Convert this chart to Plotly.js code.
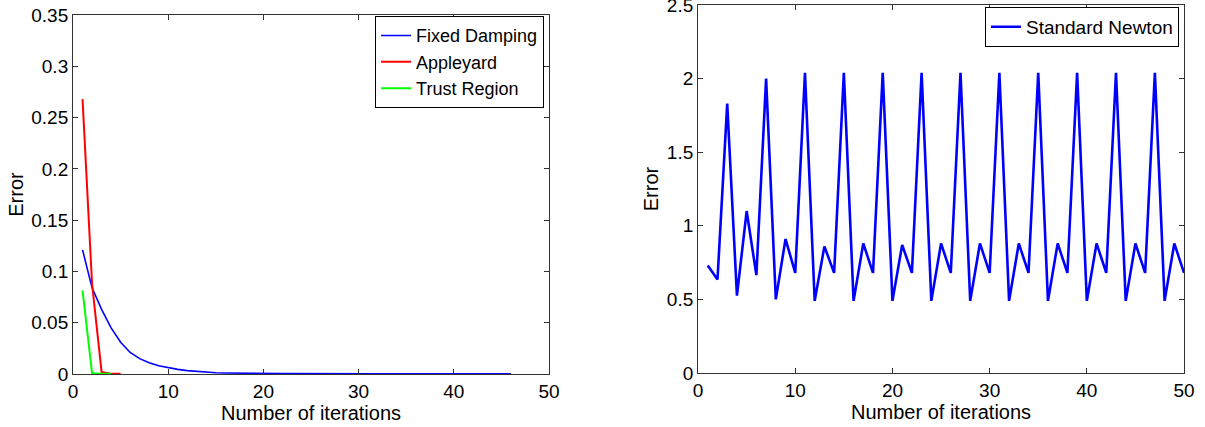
<!DOCTYPE html>
<html>
<head>
<meta charset="utf-8">
<script src="https://cdn.plot.ly/plotly-3.0.1.min.js"></script>
<style>html,body{margin:0;padding:0;background:#fff;}#plot{width:1205px;height:427px;}</style>
</head>
<body>
<div id="plot"></div>
<script>
// Left panel data
const fixedX = [1,2,3,4,5,6,7,8,9,10,11,12,13,14,15,16,17,18,19,20,21,22,23,24,25,26,27,28,29,30,31,32,33,34,35,36,37,38,39,40,41,42,43,44,45,46];
const fixedY = [0.121,0.084,0.063,0.045,0.031,0.021,0.015,0.011,0.008,0.006,0.0045,0.0033,0.0025,0.0018,0.0013,0.001,0.0008,0.0007,0.0006,0.0005,0.0005,0.0004,0.0004,0.0003,0.0003,0.0003,0.0003,0.0002,0.0002,0.0002,0.0002,0.0002,0.0002,0.0001,0.0001,0.0001,0.0001,0.0001,0.0001,0.0001,0.0001,0.0001,0.0001,0.0001,0.0001,0.0001];
const appleX = [1,2,3,4,5];
const appleY = [0.268,0.088,0.002,0.0003,0.0003];
const trustX = [1,2,3,4];
const trustY = [0.0815,0.0008,0.0003,0.0003];
// Right panel data
const newtonX = [1,2,3,4,5,6,7,8,9,10,11,12,13,14,15,16,17,18,19,20,21,22,23,24,25,26,27,28,29,30,31,32,33,34,35,36,37,38,39,40,41,42,43,44,45,46,47,48,49,50];
const newtonY = [0.73,0.635,1.83,0.525,1.10,0.665,2.00,0.50,0.91,0.68,
                 2.04,0.49,0.86,0.68,2.04,0.49,0.88,0.68,2.04,0.49,
                 0.87,0.68,2.04,0.49,0.88,0.68,2.04,0.49,0.88,0.68,
                 2.04,0.49,0.88,0.68,2.04,0.49,0.88,0.68,2.04,0.49,
                 0.88,0.68,2.04,0.49,0.88,0.68,2.04,0.49,0.88,0.68];
const leftXTicks = [0,10,20,30,40,50];
const leftYTicks = [0,0.05,0.1,0.15,0.2,0.25,0.3,0.35];
const leftYLabels = ['0','0.05','0.1','0.15','0.2','0.25','0.3','0.35'];
const rightYTicks = [0,0.5,1,1.5,2,2.5];
const rightYLabels = ['0','0.5','1','1.5','2','2.5'];

const FONT = 'Liberation Sans, Arial, sans-serif';
const traces = [
  {x: fixedX, y: fixedY, mode:'lines', name:'Fixed Damping', line:{color:'#0000ff', width:1.6}, xaxis:'x', yaxis:'y', legend:'legend'},
  {x: appleX, y: appleY, mode:'lines', name:'Appleyard', line:{color:'#ff0000', width:2}, xaxis:'x', yaxis:'y', legend:'legend'},
  {x: trustX, y: trustY, mode:'lines', name:'Trust Region', line:{color:'#00ff00', width:2}, xaxis:'x', yaxis:'y', legend:'legend'},
  {x: newtonX, y: newtonY, mode:'lines', name:'Standard Newton', line:{color:'#0000ff', width:2.6}, xaxis:'x2', yaxis:'y2', legend:'legend2'}
];

const axCommon = {
  showline:true, linecolor:'#333', linewidth:1, mirror:'ticks', ticks:'inside', ticklen:5, tickcolor:'#333',
  showgrid:false, zeroline:false, automargin:false, ticklabeloverflow:'allow',
  tickfont:{family:FONT, size:19, color:'#000'}
};
const TITLEFONT = {family:FONT, size:20, color:'#000'};

const layout = {
  width:1205, height:427,
  margin:{l:0,r:0,t:0,b:0},
  paper_bgcolor:'#fff', plot_bgcolor:'#fff',
  showlegend:true,
  font:{family:FONT, size:18, color:'#000'},
  xaxis: Object.assign({}, axCommon, {domain:[0.0606,0.4556], range:[0,50], tickvals:leftXTicks, anchor:'y',
    title:{text:'Number of iterations', font:TITLEFONT, standoff:0}}),
  yaxis: Object.assign({}, axCommon, {domain:[0.1241,0.9649], range:[0,0.35], tickvals:leftYTicks, ticktext:leftYLabels, anchor:'x',
    title:{text:'Error', font:TITLEFONT, standoff:2}}),
  xaxis2: Object.assign({}, axCommon, {domain:[0.5793,0.9826], range:[0,50], tickvals:leftXTicks, anchor:'y2',
    title:{text:'Number of iterations', font:TITLEFONT, standoff:0}}),
  yaxis2: Object.assign({}, axCommon, {domain:[0.1265,0.9883], range:[0,2.5], tickvals:rightYTicks, ticktext:rightYLabels, anchor:'x2',
    title:{text:'Error', font:TITLEFONT, standoff:2}}),
  legend:{x:0.4515, xanchor:'right', y:0.962, yanchor:'top', bgcolor:'#fff', bordercolor:'#000', borderwidth:1,
    font:{family:FONT,size:18,color:'#000'}, tracegroupgap:0, itemwidth:30},
  legend2:{x:0.9784, xanchor:'right', y:0.984, yanchor:'top', bgcolor:'#fff', bordercolor:'#000', borderwidth:1,
    font:{family:FONT,size:19,color:'#000'}, itemwidth:30}
};

Plotly.newPlot('plot', traces, layout, {staticPlot:true, displayModeBar:false});
</script>
</body>
</html>
